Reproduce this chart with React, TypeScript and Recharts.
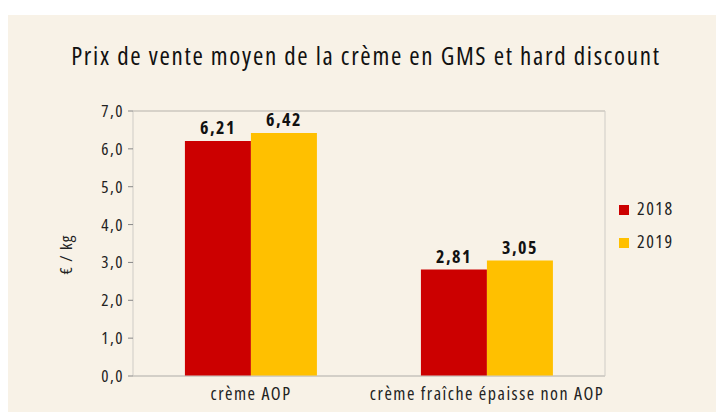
import { BarChart, Bar, XAxis, YAxis, CartesianGrid, Legend, LabelList, Label } from 'recharts';

const categories = ['crème AOP', 'crème fraîche épaisse non AOP'];
const prix2018 = [6.21, 2.81];
const prix2019 = [6.42, 3.05];
const yTicks = [0, 1, 2, 3, 4, 5, 6, 7];

const data = categories.map((name, i) => ({ name, y2018: prix2018[i], y2019: prix2019[i] }));

const FONT = "'Open Sans', Roboto, sans-serif";
const STRETCH = '75%';
const BG = '#F8F2E7';
const fmt = (v: any) => Number(v).toFixed(2).replace('.', ',');

// rotated y-axis title, nudged a little below the axis middle like the original
const YTitle = ({ viewBox }: any) => {
    const x = viewBox.x - 1;
    const y = viewBox.y + viewBox.height / 2 + 11;
    return (
        <text x={x} y={y} transform={`rotate(-90, ${x}, ${y})`} textAnchor="middle" fill="#222" fontSize={17} letterSpacing={1.2}>
            € / kg
        </text>
    );
};

export default function App() {
    return (
        <div style={{ position: 'absolute', left: 8, top: 15, width: 708, height: 397, background: BG, fontFamily: FONT, fontStretch: STRETCH }}>
            <div style={{ position: 'absolute', left: 0, width: 716, top: 23, textAlign: 'center', fontSize: 25, letterSpacing: 1.7, color: '#111' }}>
                Prix de vente moyen de la crème en GMS et hard discount
            </div>
            <BarChart
                width={708}
                height={397}
                data={data}
                margin={{ top: 96, right: 110, bottom: 8, left: 65 }}
                barCategoryGap="22%"
                barGap={0}
                style={{ fontFamily: FONT, fontStretch: STRETCH }}
            >
                <CartesianGrid vertical={false} stroke="#b5b2ab" strokeWidth={1.2} />
                <XAxis
                    dataKey="name"
                    tickLine={false}
                    axisLine={{ stroke: '#cfccc6' }}
                    tick={{ fill: '#222', fontSize: 18, letterSpacing: 1.5 }}
                    tickMargin={5}
                    height={28}
                />
                <YAxis
                    yAxisId="left"
                    domain={[0, 7]}
                    ticks={yTicks}
                    interval={0}
                    tickFormatter={(v: number) => v.toFixed(1).replace('.', ',')}
                    tick={{ fill: '#222', fontSize: 17, letterSpacing: 1.5 }}
                    tickLine={{ stroke: '#888' }}
                    tickSize={5}
                    tickMargin={4}
                    axisLine={{ stroke: '#cfccc6' }}
                    width={60}
                >
                    <Label content={YTitle} />
                </YAxis>
                <YAxis
                    yAxisId="right"
                    orientation="right"
                    domain={[0, 7]}
                    tick={false}
                    tickLine={false}
                    axisLine={{ stroke: '#cfccc6' }}
                    width={1}
                />
                <Legend
                    layout="vertical"
                    verticalAlign="middle"
                    align="center"
                    iconType="square"
                    iconSize={10}
                    wrapperStyle={{ left: 611, top: 177, width: 90, fontSize: 18, lineHeight: '33px', letterSpacing: 1.5 }}
                    formatter={(value: any) => <span style={{ color: '#222', marginLeft: 4 }}>{value}</span>}
                />
                <Bar yAxisId="left" dataKey="y2018" name="2018" fill="#CC0000" isAnimationActive={false}>
                    <LabelList dataKey="y2018" position="top" offset={7} formatter={fmt} style={{ fill: '#111', fontSize: 18, fontWeight: 'bold', letterSpacing: 1.5 }} />
                </Bar>
                <Bar yAxisId="left" dataKey="y2019" name="2019" fill="#FFC000" isAnimationActive={false}>
                    <LabelList dataKey="y2019" position="top" offset={7} formatter={fmt} style={{ fill: '#111', fontSize: 18, fontWeight: 'bold', letterSpacing: 1.5 }} />
                </Bar>
            </BarChart>
        </div>
    );
}
